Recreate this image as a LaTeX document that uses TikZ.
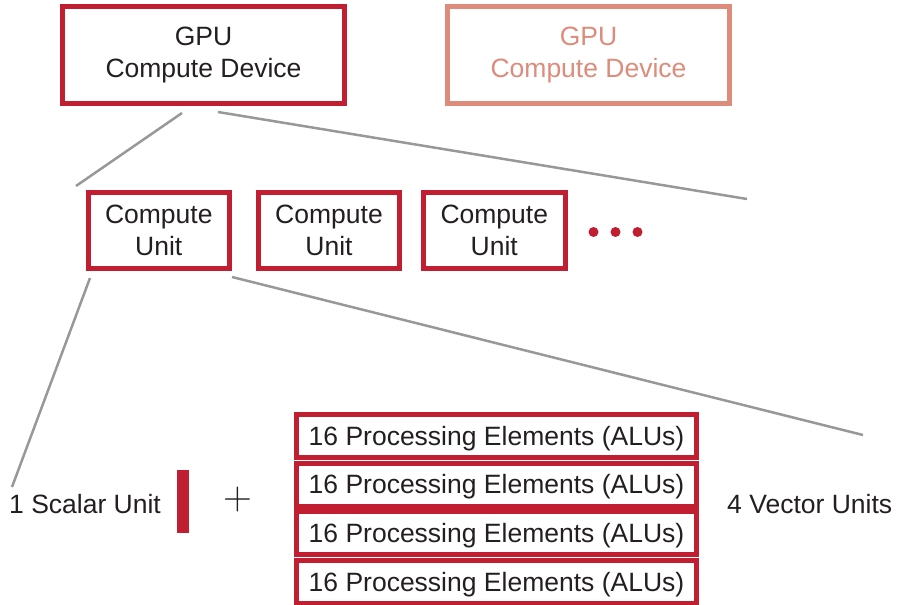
\documentclass[tikz,border=0pt]{standalone}
\usepackage[no-math]{fontspec}
\setmainfont{Liberation Sans}
\usepackage{tikz}
\usetikzlibrary{positioning}

\definecolor{cured}{RGB}{193,30,50}
\definecolor{cusalmon}{RGB}{221,139,122}
\definecolor{zoomgray}{RGB}{152,152,152}
\definecolor{inkblack}{RGB}{35,31,32}

\begin{document}
\begin{tikzpicture}[x=1pt, y=-1pt,
        font=\fontsize{26.5}{31.5}\selectfont, text=inkblack,
        unitbox/.style={draw=cured, line width=5pt, align=center, inner sep=0pt},
        zoomline/.style={draw=zoomgray, line width=2.5pt},
        dot/.style={circle, fill=cured, inner sep=0pt, minimum size=10pt}]
                \useasboundingbox (0,0) rectangle (900,605);

                % Compute devices
                \node[unitbox, minimum width=282pt, minimum height=97pt] (gpu) at (203.5,55) {GPU\\Compute Device};
                \node[unitbox, draw=cusalmon, text=cusalmon, minimum width=282pt, minimum height=97pt] (gpu2) at (588.5,55) {GPU\\Compute Device};

                % Compute units
                \node[unitbox, minimum width=141.5pt, minimum height=75.5pt] (cu1) at (158.8,230.3) {Compute\\Unit};
                \node[unitbox, minimum width=141.5pt, minimum height=75.5pt] (cu2) at (329,230.3) {Compute\\Unit};
                \node[unitbox, minimum width=141.5pt, minimum height=75.5pt] (cu3) at (494.3,230.3) {Compute\\Unit};
                \foreach \i/\x in {1/593.5, 2/615.5, 3/637.5}
                    \node[dot] (dot\i) at (\x,232) {};

                % Scalar unit
                \node[anchor=base west, inner sep=0pt] (scalar) at (9,513) {1 Scalar Unit};
                \node[fill=cured, inner sep=0pt, minimum width=12.3pt, minimum height=63.3pt] (sbar) at (182.8,501.7) {};
                \node[font=\fontfamily{lmr}\fontsize{40}{40}\selectfont] (plus) at (238.3,500) {+};

                % Vector units
                \foreach \i in {0,...,3}
                    \node[unitbox, text height=20pt, text depth=2pt, minimum width=400pt, minimum height=43pt] (pe\i) at (496.5,{436+48.67*\i}) {16 Processing Elements (ALUs)};
                \node[anchor=base west, inner sep=0pt] (vector) at (727,513) {4 Vector Units};

                % Zoom lines: device to units
                \coordinate (gpuA) at (182,113);
                \coordinate (gpuB) at (218,112);
                \coordinate (cuA) at (76,186);
                \coordinate (cuB) at (747,199);
                \draw[zoomline] (gpuA) -- (cuA);
                \draw[zoomline] (gpuB) -- (cuB);

                % Zoom lines: unit to ALUs
                \coordinate (cuC) at (90,278);
                \coordinate (cuD) at (232,277);
                \coordinate (aluA) at (12,487);
                \coordinate (aluB) at (863,435);
                \draw[zoomline] (cuC) -- (aluA);
                \draw[zoomline] (cuD) -- (aluB);
\end{tikzpicture}
\end{document}
